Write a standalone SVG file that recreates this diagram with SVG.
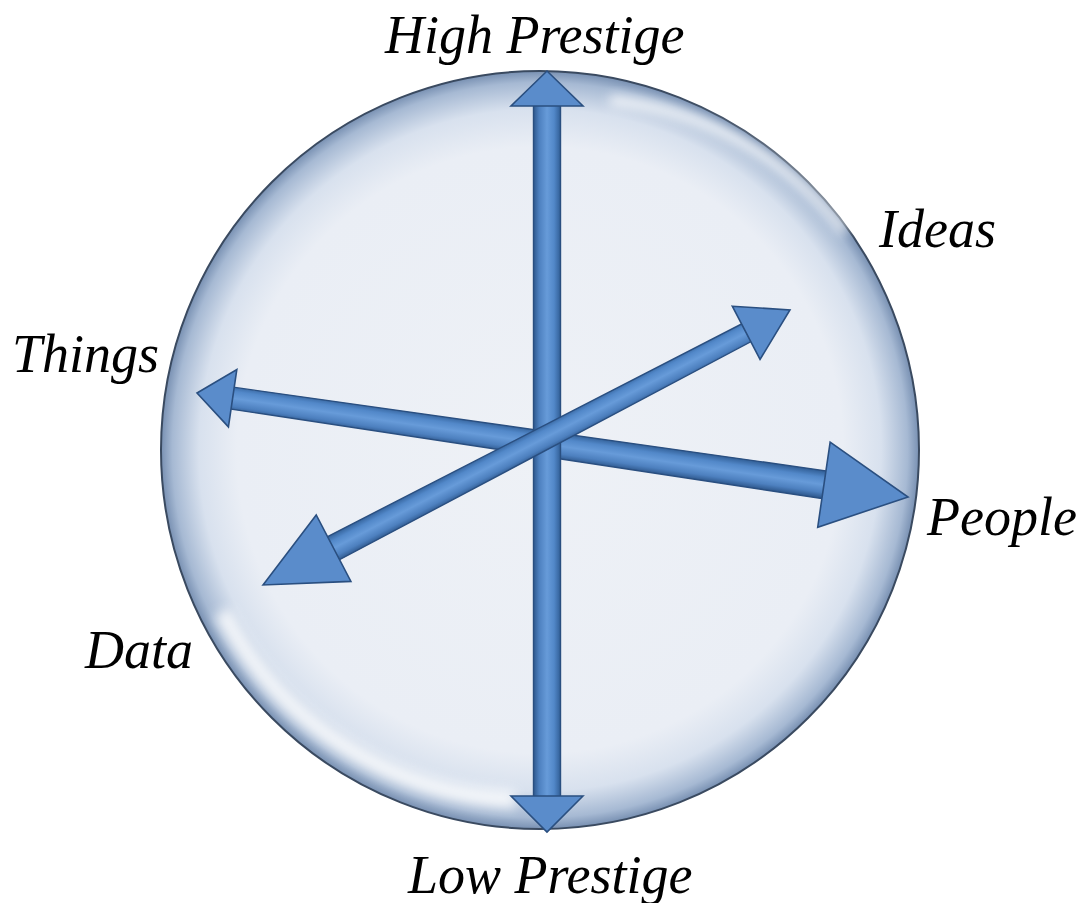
<svg xmlns="http://www.w3.org/2000/svg" width="1086" height="903" viewBox="0 0 1086 903">
<defs>
<radialGradient id="disc" cx="540" cy="450" r="379" gradientUnits="userSpaceOnUse">
<stop offset="0" stop-color="#eef1f6"/>
<stop offset="0.8" stop-color="#eaeef5"/>
<stop offset="0.9" stop-color="#d8e1ee"/>
<stop offset="0.97" stop-color="#a6b9d3"/>
<stop offset="1" stop-color="#7890b2"/>
</radialGradient>
<linearGradient id="shaft" x1="0" y1="-14" x2="0" y2="14" gradientUnits="userSpaceOnUse">
<stop offset="0" stop-color="#2f5c93"/>
<stop offset="0.25" stop-color="#5288c9"/>
<stop offset="0.5" stop-color="#679bd9"/>
<stop offset="0.78" stop-color="#4d80bf"/>
<stop offset="1" stop-color="#2c5589"/>
</linearGradient>
<linearGradient id="head" x1="0" y1="0" x2="1" y2="1">
<stop offset="0" stop-color="#6a9cd9"/>
<stop offset="0.6" stop-color="#5a8ccb"/>
<stop offset="1" stop-color="#3f6ea9"/>
</linearGradient>
<filter id="blur" x="-10%" y="-10%" width="120%" height="120%"><feGaussianBlur stdDeviation="6"/></filter>
<style>
.lbl{font-family:"Liberation Serif","Times New Roman",serif;font-style:italic;font-size:54px;fill:#000}
.sh{fill:url(#shaft);stroke:#2a4f80;stroke-width:1.4}
.hd{fill:#5a8ccb;stroke:#2a4f80;stroke-width:1.6;stroke-linejoin:miter}
</style>
</defs>

<g id="disc-node">
<circle cx="540" cy="450" r="379" fill="url(#disc)" stroke="#3a4a60" stroke-width="2"/>
<path d="M 610 100 A 340 340 0 0 1 845 232" fill="none" stroke="#ffffff" stroke-width="10" opacity="0.85" filter="url(#blur)"/>
<path d="M 222 612 A 345 345 0 0 0 515 800" fill="none" stroke="#ffffff" stroke-width="18" opacity="0.8" filter="url(#blur)"/>
</g>

<g id="connectors">
<g id="arrow-things-people" transform="translate(197,393) rotate(8.32)">
<polygon class="sh" points="35,-11 634.6,-14 634.6,14 35,11"/>
<polygon class="hd" points="0,0 36,-29 36,29"/>
<polygon class="hd" points="633.6,-43 718.6,0 633.6,43"/>
</g>
<g id="arrow-prestige" transform="translate(547,71) rotate(90)">
<polygon class="sh" points="34,-13.5 727,-13.5 727,13.5 34,13.5"/>
<polygon class="hd" points="0,0 35,-36 35,36"/>
<polygon class="hd" points="725,-36 761,0 725,36"/>
</g>
<g id="arrow-ideas-data" transform="translate(263,585) rotate(-27.56)">
<polygon class="sh" points="78.6,-13 546,-10 546,10 78.6,13"/>
<polygon class="hd" points="0,0 79.6,-37.5 79.6,37.5"/>
<polygon class="hd" points="545,-30 594.4,0 545,30"/>
</g>
</g>

<g id="label-high"><text class="lbl" x="385" y="53">High Prestige</text></g>
<g id="label-low"><text class="lbl" x="408" y="893">Low Prestige</text></g>
<g id="label-things"><text class="lbl" x="12" y="372">Things</text></g>
<g id="label-ideas"><text class="lbl" x="879" y="247">Ideas</text></g>
<g id="label-people"><text class="lbl" x="927" y="535">People</text></g>
<g id="label-data"><text class="lbl" x="85" y="668">Data</text></g>
</svg>
